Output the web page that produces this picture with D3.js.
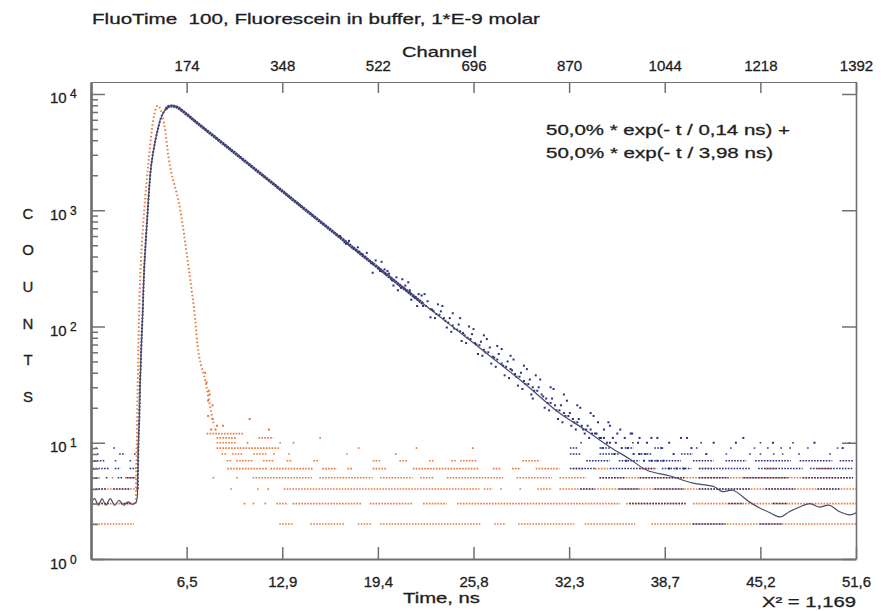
<!DOCTYPE html>
<html>
<head>
<meta charset="utf-8">
<script src="https://cdn.jsdelivr.net/npm/d3@7"></script>
<style>
    body { margin: 0; background: #fff; }
    svg { display: block; font-family: "Liberation Sans", Arial, sans-serif; }
    svg text { stroke: #1e1e1e; stroke-width: 0.3px; white-space: pre; }
</style>
</head>
<body>
<svg id="chart" width="896" height="611"></svg>
<script>
// ---- data ----
const timeTicks = [6.45, 12.9, 19.35, 25.8, 32.25, 38.7, 45.15, 51.6]
const timeTickLabels = ["6,5", "12,9", "19,4", "25,8", "32,3", "38,7", "45,2", "51,6"]
const channelTicks = [174, 348, 522, 696, 870, 1044, 1218, 1392]
const decades = [0, 1, 2, 3, 4]
const yTitleLetters = ["C", "O", "U", "N", "T", "S"]

// measured decay, rising edge (time ns, counts)
const decayRise = [
    [3.15, 4], [3.2, 10], [3.25, 15], [3.3, 30], [3.36, 50], [3.42, 85], [3.48, 126], [3.53, 200],
    [3.59, 316], [3.7, 560], [3.81, 920], [3.92, 1500], [4.04, 2300], [4.2, 3200], [4.37, 4150],
    [4.55, 5200], [4.71, 6200], [4.88, 6900], [5.05, 7400]
]

// measured decay, dense part
const decayCore = [
    [5.05, 7400], [5.2, 7750], [5.38, 7880], [5.6, 7850],
    [5.8, 7700], [6.2, 7100], [6.73, 6250], [7.5, 5200], [8.2, 4420], [8.97, 3690], [10.0, 2900],
    [11.0, 2290], [11.66, 1960], [12.5, 1610], [13.46, 1280], [14.5, 1000], [15.4, 810],
    [16.37, 645], [17.3, 520], [18.3, 410], [19.29, 326], [20.3, 256], [21.3, 203], [22.43, 156]
]

// measured decay, noisy part
const decayDots = [
    [16.8, 600], [17.1, 530], [17.4, 545], [17.7, 470], [18.0, 480], [18.3, 420], [18.6, 430], [18.9, 350],
    [19.2, 370], [19.5, 300], [19.8, 310], [20.1, 285], [20.3, 250], [20.6, 265], [20.9, 215], [21.2, 225],
    [21.5, 205], [21.8, 180], [22.1, 190], [22.4, 150], [22.7, 165], [23.0, 140], [23.3, 128], [23.6, 135],
    [23.9, 112], [24.2, 118], [24.5, 96], [24.8, 104], [25.1, 88], [25.4, 80], [25.7, 86], [26.0, 70],
    [26.3, 74], [26.6, 60], [26.9, 66], [27.2, 54], [27.5, 58], [27.8, 46], [28.1, 50], [28.4, 42],
    [28.7, 37], [29.0, 40], [29.3, 32], [29.6, 35], [29.9, 28], [30.2, 30], [30.5, 25], [30.8, 22],
    [31.1, 24], [31.4, 19], [31.7, 21], [32.0, 17], [32.3, 18], [32.6, 15], [32.9, 16], [33.2, 13],
    [33.5, 14], [33.8, 12], [34.1, 12], [34.4, 11], [34.8, 10], [35.2, 11],
    [19.0, 290], [19.6, 360], [20.4, 225], [21.0, 255], [21.6, 170], [22.3, 185], [22.9, 120], [23.4, 155],
    [24.0, 98], [24.4, 130], [25.0, 75], [25.5, 100], [26.1, 58], [26.5, 84], [27.0, 48], [27.4, 68],
    [27.9, 38], [28.3, 56], [28.8, 31], [29.2, 46], [29.7, 26], [30.0, 38], [30.6, 20], [31.0, 30],
    [31.5, 16], [31.9, 26], [32.4, 14], [32.8, 21], [33.3, 12], [33.7, 18], [34.2, 15], [34.6, 13],
    [35.0, 14], [35.5, 12], [36.0, 11], [36.5, 12], [37.0, 11], [37.5, 10], [38.2, 11], [39.0, 10],
    [40.2, 11], [42.0, 10], [44.0, 11],
    [17.2, 515], [17.6, 480], [18.1, 440], [18.5, 398], [19.0, 350], [19.4, 315], [19.9, 282], [20.4, 250],
    [20.8, 228], [21.1, 212], [21.5, 196], [21.9, 178], [22.2, 165], [22.6, 150], [22.9, 141], [23.1, 136],
    [23.5, 126], [23.8, 118], [24.1, 108], [24.4, 102], [24.7, 94], [24.9, 91], [25.2, 84], [25.6, 78],
    [25.9, 72], [26.2, 69], [26.5, 63], [26.8, 60], [27.1, 55], [27.4, 52], [27.7, 48], [28.0, 45],
    [28.3, 43], [28.6, 39], [28.9, 37], [29.2, 34], [29.5, 32], [29.8, 30], [30.1, 28], [30.4, 26],
    [30.7, 24], [31.0, 22], [31.3, 21], [31.6, 19], [31.9, 18], [32.2, 17], [32.5, 16], [32.8, 15],
    [33.1, 14], [33.4, 13], [33.7, 13], [34.0, 12], [34.3, 11], [34.6, 11], [35.0, 10], [35.4, 10],
    [35.8, 9], [36.2, 9], [36.6, 8], [37.0, 8], [37.4, 8], [37.8, 7], [38.2, 7], [38.6, 7], [39.0, 6],
    [39.5, 6], [40.0, 6],
    [20.0, 300], [20.7, 205], [21.4, 240], [22.0, 150], [22.5, 190], [23.2, 118], [23.7, 150], [24.3, 90],
    [24.9, 118], [25.3, 72], [25.8, 95], [26.4, 56], [26.7, 78], [27.3, 45], [27.7, 64], [28.2, 36],
    [28.5, 52], [29.1, 29], [29.4, 43], [29.8, 24], [30.3, 35], [30.9, 19], [31.2, 29], [31.8, 15],
    [32.1, 23], [32.7, 13], [33.0, 20], [33.6, 11], [33.9, 17], [34.5, 9], [34.9, 15], [35.3, 8],
    [35.7, 13], [36.1, 7], [36.4, 12], [36.9, 10], [37.3, 7], [37.8, 11], [38.5, 9], [39.3, 8],
    [39.8, 11], [40.5, 9], [41.5, 8], [43.5, 10], [46.0, 10], [48.8, 10], [50.7, 9]
]

// measured decay, low counts: [count, from ns, to ns]
const decayRuns = [
    [9, 0.3, 0.4], [9, 1.5, 1.6], [8, 0.4, 0.5], [8, 1.9, 2.3], [8, 2.9, 3.0], [7, 0.2, 0.9], [7, 1.6, 1.7],
    [7, 2.6, 2.7], [6, 0.1, 1.2], [6, 1.6, 2.0], [6, 2.6, 3.05], [5, 0.3, 0.5], [5, 1.0, 1.2], [5, 1.8, 2.1],
    [5, 2.4, 3.0], [4, 0.3, 1.0], [4, 1.5, 2.6], [3, 0.5, 1.2], [3, 2.0, 2.8],
    [10, 33.0, 33.1], [10, 36.5, 36.6], [10, 41.1, 41.2], [10, 45.1, 45.2], [10, 47.3, 47.4], [10, 51.1, 51.2],
    [9, 32.3, 32.8], [9, 34.3, 35.0], [9, 36.0, 36.6], [9, 38.0, 38.6], [9, 40.8, 41.0], [9, 43.1, 43.2],
    [9, 44.7, 44.8], [9, 45.6, 45.7], [9, 46.5, 46.6], [9, 47.1, 47.2], [9, 48.3, 48.4], [9, 50.3, 50.4],
    [8, 32.3, 33.0], [8, 34.3, 35.6], [8, 36.9, 37.8], [8, 39.8, 40.6], [8, 42.8, 42.9], [8, 44.4, 44.5],
    [8, 45.1, 45.2], [8, 46.0, 46.1], [8, 46.6, 46.7], [8, 47.7, 47.8], [8, 49.8, 49.9],
    [7, 33.4, 35.0], [7, 35.6, 37.0], [7, 37.6, 39.8], [7, 40.6, 42.0], [7, 42.8, 44.2], [7, 44.8, 47.2],
    [7, 47.8, 50.0], [7, 50.5, 51.4],
    [6, 32.3, 34.0], [6, 35.0, 38.0], [6, 38.5, 40.5], [6, 41.0, 44.5], [6, 45.0, 48.0], [6, 48.5, 51.4],
    [5, 34.3, 36.0], [5, 37.0, 40.0], [5, 41.0, 43.0], [5, 44.0, 47.0], [5, 48.0, 51.4],
    [4, 33.0, 34.0], [4, 35.6, 37.0], [4, 38.0, 40.0], [4, 41.0, 44.5], [4, 45.5, 47.5], [4, 49.0, 50.5],
    [3, 36.3, 40.1], [3, 43.0, 44.0], [3, 46.0, 47.0], [2, 40.6, 42.8], [2, 45.1, 46.6]
]

// instrument response (orange)
const irfCurve = [
    [3.02, 3], [3.06, 6], [3.1, 12], [3.14, 25], [3.18, 50], [3.22, 90], [3.26, 150], [3.3, 230],
    [3.36, 350], [3.42, 480], [3.5, 700], [3.58, 950], [3.66, 1300], [3.75, 1750], [3.85, 2400],
    [3.95, 3200], [4.05, 4300], [4.15, 5400], [4.25, 6500], [4.35, 7300], [4.45, 7850], [4.53, 7950],
    [4.62, 7700], [4.72, 7200], [4.82, 6500], [4.92, 5600], [5.02, 4700], [5.14, 3500], [5.27, 2650],
    [5.42, 2100], [5.6, 1700], [5.78, 1400], [5.94, 1150], [6.1, 870], [6.28, 620], [6.45, 430],
    [6.62, 297], [6.8, 200], [6.95, 143], [7.07, 100], [7.18, 70], [7.3, 55], [7.45, 45], [7.63, 38],
    [7.8, 30], [7.96, 23], [8.12, 18], [8.3, 14]
]

const irfDots = [
    [7.7, 40], [7.95, 28], [7.8, 33], [8.0, 26], [7.9, 23], [8.2, 21], [7.9, 17], [8.2, 16], [8.5, 14],
    [8.9, 14], [10.7, 16], [8.1, 13], [8.4, 13], [12.0, 13]
]

const irfRuns = [
    [2, 0.1, 2.9], [2, 12.7, 13.6], [2, 14.8, 17.1], [2, 18.0, 18.9], [2, 19.5, 26.3], [2, 27.2, 28.0],
    [2, 28.8, 32.6], [2, 33.3, 36.7], [2, 37.8, 51.6],
    [3, 0.1, 3.0], [3, 10.3, 10.5], [3, 10.9, 11.0], [3, 11.7, 11.8], [3, 12.5, 13.2], [3, 13.6, 18.3],
    [3, 18.8, 21.7], [3, 22.4, 24.0], [3, 24.7, 35.7], [3, 36.1, 40.2], [3, 40.6, 51.6],
    [4, 0.1, 3.1], [4, 9.4, 9.5], [4, 11.2, 11.3], [4, 11.9, 12.0], [4, 13.0, 26.2], [4, 26.5, 27.1],
    [4, 27.6, 27.7], [4, 28.9, 29.1], [4, 30.1, 31.1], [4, 31.6, 51.6],
    [5, 0.1, 0.6], [5, 1.4, 1.6], [5, 2.3, 3.0], [5, 8.2, 8.3], [5, 9.8, 9.9], [5, 10.9, 14.9],
    [5, 15.4, 19.0], [5, 19.5, 21.7], [5, 22.2, 23.1], [5, 24.0, 27.8], [5, 28.7, 31.1], [5, 31.6, 33.4],
    [5, 34.3, 51.4],
    [6, 9.2, 11.9], [6, 12.1, 15.0], [6, 15.6, 16.6], [6, 17.3, 17.7], [6, 19.0, 19.9], [6, 21.7, 26.2],
    [6, 27.1, 27.6], [6, 28.4, 29.0], [6, 30.0, 31.6], [6, 32.5, 33.2], [6, 34.0, 35.0], [6, 37.0, 38.2],
    [6, 41.0, 42.0], [6, 45.5, 46.2], [6, 49.0, 50.0],
    [7, 9.15, 9.5], [7, 9.8, 10.95], [7, 11.6, 12.3], [7, 13.2, 13.6], [7, 15.0, 15.4], [7, 19.0, 19.5],
    [7, 20.8, 21.3], [7, 22.8, 23.1], [7, 24.3, 24.6], [7, 24.9, 26.0], [7, 29.1, 30.3],
    [8, 8.8, 9.15], [8, 9.5, 10.2], [8, 10.95, 11.9], [8, 12.3, 12.4], [8, 13.3, 13.4], [8, 17.2, 17.3],
    [8, 20.5, 20.6],
    [9, 8.47, 12.74], [9, 18.0, 18.1], [9, 21.9, 22.0], [9, 25.7, 25.8],
    [10, 8.47, 9.82], [10, 10.5, 10.6], [10, 12.7, 12.8], [10, 13.6, 13.7],
    [11, 8.47, 9.82], [11, 11.3, 12.3], [11, 15.4, 15.5], [12, 7.8, 10.3]
]

// fitted curve
const fitCurve = [
    [0, 3.0], [0.25, 3.3], [0.5, 2.9], [0.75, 3.3], [1.0, 2.9], [1.3, 3.3], [1.6, 2.9], [1.9, 3.2],
    [2.2, 2.9], [2.5, 3.1], [2.8, 2.95], [3.05, 3.1], [3.15, 5], [3.2, 10], [3.25, 15], [3.36, 50],
    [3.48, 126], [3.59, 316], [3.81, 920], [4.04, 2300], [4.37, 4150], [4.71, 6200], [5.05, 7400],
    [5.38, 7880], [5.8, 7700], [6.73, 6250], [8.97, 3690], [11.66, 1960], [13.46, 1280], [16.37, 645],
    [19.29, 326], [22.43, 156], [25.8, 72], [29.16, 33], [31.6, 18], [33.3, 13], [35.0, 9.2],
    [36.3, 7.3], [37.5, 5.8], [39.0, 5.2], [40.6, 4.5], [42.0, 4.2], [42.6, 3.8], [43.3, 3.9],
    [44.4, 3.1], [45.1, 2.75], [45.8, 2.5], [46.5, 2.3], [47.1, 2.55], [47.8, 2.8], [48.5, 3.0],
    [49.1, 2.8], [49.8, 2.9], [50.5, 2.55], [51.2, 2.4], [51.6, 2.5]
]

const fitText = ["50,0% * exp(- t / 0,14 ns) +", "50,0% * exp(- t / 3,98 ns)"]
const chiText = "X\u00b2 = 1,169"

// ---- layout ----
const BLUE = "#2c2f7f"
const ORANGE = "#e8783a"
const FIT = "#4c4c66"
const AXIS = "#707070"
const INK = "#1e1e1e"

const plot = {left: 91, right: 856, top: 82, bottom: 559}

const svg = d3.select("#chart")

let x = d3.scaleLinear()
    .domain([0, 51.6])
    .range([plot.left, plot.right])
let xChannel = d3.scaleLinear()
    .domain([0, 1392])
    .range([plot.left, plot.right])
let y = d3.scaleLog()
    .domain([1, 12680])
    .range([plot.bottom, plot.top])

svg.append("clipPath")
    .attr("id", "plotClip")
    .append("rect")
    .attr("x", plot.left)
    .attr("y", plot.top)
    .attr("width", plot.right - plot.left)
    .attr("height", plot.bottom - plot.top)

let gData = svg.append("g")
    .attr("clip-path", "url(#plotClip)")

function drawRuns(runs, color, width) {
    gData.append("g")
        .selectAll("line")
        .data(runs)
        .join("line")
        .attr("x1", d => x(d[1]))
        .attr("x2", d => Math.max(x(d[2]), x(d[1]) + 1.6))
        .attr("y1", d => y(d[0]))
        .attr("y2", d => y(d[0]))
        .attr("stroke", color)
        .attr("stroke-width", width)
        .attr("stroke-dasharray", "1.6,1.3")
}

function drawDots(points, color) {
    gData.append("g")
        .selectAll("rect")
        .data(points)
        .join("rect")
        .attr("x", d => x(d[0]) - 1)
        .attr("y", d => y(d[1]) - 1)
        .attr("width", 2)
        .attr("height", 2)
        .attr("fill", color)
}

drawRuns(irfRuns, ORANGE, 1.7)
drawRuns(decayRuns, BLUE, 1.4)

let line = d3.line()
    .x(d => x(d[0]))
    .y(d => y(d[1]))
    .curve(d3.curveMonotoneX)

gData.append("path")
    .datum(decayRise)
    .attr("d", line)
    .attr("fill", "none")
    .attr("stroke", BLUE)
    .attr("stroke-width", 2)
    .attr("stroke-dasharray", "1.8,1.6")

gData.append("path")
    .datum(irfCurve)
    .attr("d", line)
    .attr("fill", "none")
    .attr("stroke", ORANGE)
    .attr("stroke-width", 2)
    .attr("stroke-dasharray", "1.5,2.4")

drawDots(irfDots, ORANGE)
drawDots(decayDots, BLUE)

gData.append("path")
    .datum(decayCore)
    .attr("d", line)
    .attr("fill", "none")
    .attr("stroke", BLUE)
    .attr("stroke-width", 3)
    .attr("stroke-dasharray", "2.2,0.6")

gData.append("path")
    .datum(fitCurve)
    .attr("d", line.curve(d3.curveCatmullRom))
    .attr("fill", "none")
    .attr("stroke", FIT)
    .attr("stroke-width", 1.2)

// ---- axes ----
function styleAxis(g, width) {
    g.attr("font-size", 15)
        .attr("font-family", "Liberation Sans, Arial, sans-serif")
    g.select(".domain").attr("stroke", AXIS).attr("stroke-width", width)
    g.selectAll(".tick line").attr("stroke", AXIS).attr("stroke-width", 1.5)
    g.selectAll(".tick text").attr("fill", INK)
}

svg.append("g")
    .attr("transform", `translate(0,${plot.bottom})`)
    .call(d3.axisBottom(x)
        .tickValues(timeTicks)
        .tickFormat((d, i) => timeTickLabels[i])
        .tickSizeInner(-12)
        .tickSizeOuter(0)
        .tickPadding(17))
    .call(g => styleAxis(g, 2.2))

svg.append("g")
    .attr("transform", `translate(0,${plot.top})`)
    .call(d3.axisTop(xChannel)
        .tickValues(channelTicks)
        .tickFormat(d3.format("d"))
        .tickSizeInner(-11)
        .tickSizeOuter(0)
        .tickPadding(11))
    .call(g => styleAxis(g, 1.2))

svg.append("g")
    .attr("transform", `translate(${plot.left},0)`)
    .call(d3.axisLeft(y)
        .tickValues(decades.map(e => Math.pow(10, e)))
        .tickFormat("")
        .tickSizeInner(-14)
        .tickSizeOuter(0))
    .call(g => styleAxis(g, 2.2))

let minorTicks = []
decades.slice(0, 4).forEach(e => {
    d3.range(2, 10).forEach(m => minorTicks.push(m * Math.pow(10, e)))
})
svg.append("g")
    .attr("transform", `translate(${plot.left},0)`)
    .call(d3.axisLeft(y)
        .tickValues(minorTicks)
        .tickFormat("")
        .tickSizeInner(-7)
        .tickSizeOuter(0))
    .call(g => styleAxis(g, 2.2))

svg.append("g")
    .attr("transform", `translate(${plot.right},0)`)
    .call(d3.axisRight(y)
        .tickValues(decades.map(e => Math.pow(10, e)))
        .tickFormat("")
        .tickSizeInner(-14)
        .tickSizeOuter(0))
    .call(g => styleAxis(g, 1.6))

// decade labels 10^n
let yLabels = svg.append("g")
    .selectAll("g")
    .data(decades)
    .join("g")
    .attr("transform", e => `translate(50,${y(Math.pow(10, e))})`)
    .attr("fill", INK)
yLabels.append("text")
    .attr("y", 9.5)
    .attr("font-size", 15)
    .text("10")
yLabels.append("text")
    .attr("x", 20)
    .attr("y", 4.5)
    .attr("font-size", 12)
    .text(e => e)

// COUNTS, one letter per line
svg.append("g")
    .selectAll("text")
    .data(yTitleLetters)
    .join("text")
    .attr("x", 28)
    .attr("y", (d, i) => 218.5 + i * 36.7)
    .attr("text-anchor", "middle")
    .attr("font-size", 15)
    .attr("fill", INK)
    .text(d => d)

// stretched text blocks, widths
function label(txt, px, py, len) {
    svg.append("text")
        .attr("x", px)
        .attr("y", py)
        .attr("font-size", 15)
        .attr("fill", INK)
        .attr("textLength", len)
        .attr("lengthAdjust", "spacingAndGlyphs")
        .text(txt)
}

label("FluoTime\u00a0 100, Fluorescein in buffer, 1*E-9 molar", 92, 24, 448)
label("Channel", 402, 57, 75)
label("Time, ns", 403, 603, 77)
label(chiText, 762, 607, 94)
label(fitText[0], 546, 135, 244)
label(fitText[1], 546, 158, 227)
</script>
</body>
</html>
